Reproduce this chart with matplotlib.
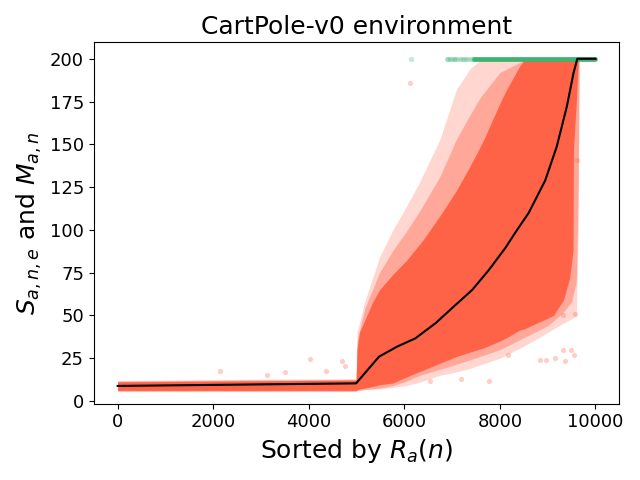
import numpy as np
import matplotlib.pyplot as plt

# mean score M_{a,n} (black line)
mean_x = [0, 1000, 2000, 3000, 4000, 4990, 5470, 5850, 6230, 6650, 7070, 7420,
          7770, 8110, 8360, 8600, 8950, 9190, 9400, 9540, 9620, 10000]
mean_y = [8.8, 9.1, 9.4, 9.7, 10.0, 10.3, 25.9, 31.8, 36.6, 45.4, 56.1, 64.9,
          76.6, 89.3, 100.0, 109.8, 129.0, 148.7, 172.0, 191.6, 200.0, 200.0]

# dense core of the episode scores S_{a,n,e}
core_x = [0, 2500, 4990, 5010, 5060, 5340, 5480, 5760, 6040, 6390, 6740, 7090,
          7370, 7650, 8000, 8140, 8420, 8500, 8970, 9120, 9330, 9460, 9530,
          9540, 9600, 9640]
core_lo = [6.2, 6.2, 6.2, 6.5, 7.0, 8.5, 9.5, 10.5, 14.0, 18.0, 22.0, 26.0,
           28.5, 31.0, 35.0, 37.0, 41.5, 42.0, 48.0, 50.0, 59.0, 72.0, 88.0,
           147.0, 175.0, 199.0]
core_hi = [11.2, 11.7, 12.2, 30.0, 40.0, 58.0, 65.0, 74.0, 82.0, 94.0, 108.0, 123.0,
           137.0, 152.0, 174.0, 182.0, 196.0, 199.0, 199.0, 199.0, 199.0, 199.0, 199.0,
           199.0, 199.0, 199.0]

# less dense band and sparse fringe around the core
fringe_x = [0, 2500, 4990, 5010, 5170, 5480, 5760, 6040, 6320, 6740, 7090, 7370,
            7580, 8000, 8500, 9000, 9300, 9500, 9600, 9640, 9660]
mid_lo = [5.8, 5.8, 5.8, 6.2, 6.8, 7.5, 9.0, 11.5, 15.0, 18.5, 21.5, 24.0,
          26.0, 30.0, 37.0, 44.0, 51.0, 58.0, 70.0, 130.0, 199.0]
mid_hi = [11.6, 12.2, 12.6, 35.0, 54.0, 75.0, 88.0, 99.0, 111.0, 131.0, 153.0, 167.0,
          177.0, 192.0, 199.0, 199.0, 199.0, 199.0, 199.0, 199.0, 199.0]
fringe_lo = [5.5, 5.5, 5.5, 6.0, 6.5, 7.0, 8.0, 9.0, 11.0, 15.0, 17.0, 19.0,
             21.0, 25.0, 32.0, 40.0, 45.0, 48.0, 50.0, 100.0, 199.0]
fringe_hi = [12.0, 12.6, 13.0, 40.0, 58.0, 84.0, 100.0, 113.6, 128.0, 152.6, 182.0, 194.0,
             199.0, 199.0, 199.0, 199.0, 199.0, 199.0, 199.0, 199.0, 199.0]

# isolated scores away from the cloud
out_x = [2143, 3125, 3510, 4022, 4364, 4705, 4748, 6114, 6540, 7180, 7780, 8165,
         8847, 8975, 9146, 9317, 9360, 9488, 9556, 9317, 9565, 9616]
out_y = [17.5, 15.0, 17.0, 24.3, 17.5, 23.4, 20.4, 186.0, 11.7, 12.7, 11.7, 27.0,
         23.8, 23.8, 25.3, 30.0, 23.4, 30.0, 27.0, 50.0, 50.6, 141.0]

# episodes that reached the 200 cap (green)
green_sparse_x = [6140, 6890, 6920, 6950, 6990, 7030, 7070, 7110, 7160, 7200,
                  7250, 7300, 7340, 7390, 7430]
green_dense_x = [7450, 10000]
cap = 200

red = 'tomato'
green = 'mediumseagreen'

fig, ax = plt.subplots(figsize=(6.4, 4.8), dpi=100)

ax.fill_between(fringe_x, fringe_lo, fringe_hi, color=red, alpha=0.25, lw=0)
ax.fill_between(fringe_x, mid_lo, mid_hi, color=red, alpha=0.4, lw=0)
ax.fill_between(core_x, core_lo, core_hi, color=red, lw=0)
ax.scatter(out_x, out_y, s=14, color=red, alpha=0.3, lw=0)

ax.scatter(green_sparse_x, [cap] * len(green_sparse_x), s=14, color=green, alpha=0.3, lw=0)
ax.plot(green_dense_x, [cap, cap], color=green, lw=3.4, solid_capstyle='round')

ax.plot(mean_x, mean_y, color='black', lw=1.5)

ax.set_xlim(-500, 10500)
ax.set_ylim(-1.6, 209.6)
ax.set_title("CartPole-v0 environment", fontsize=18)
ax.set_xlabel(r"Sorted by $R_a(n)$", fontsize=18)
ax.set_ylabel(r"$S_{a,n,e}$ and $M_{a,n}$", fontsize=18)
ax.tick_params(labelsize=13)

plt.tight_layout()
plt.savefig("out.png")
